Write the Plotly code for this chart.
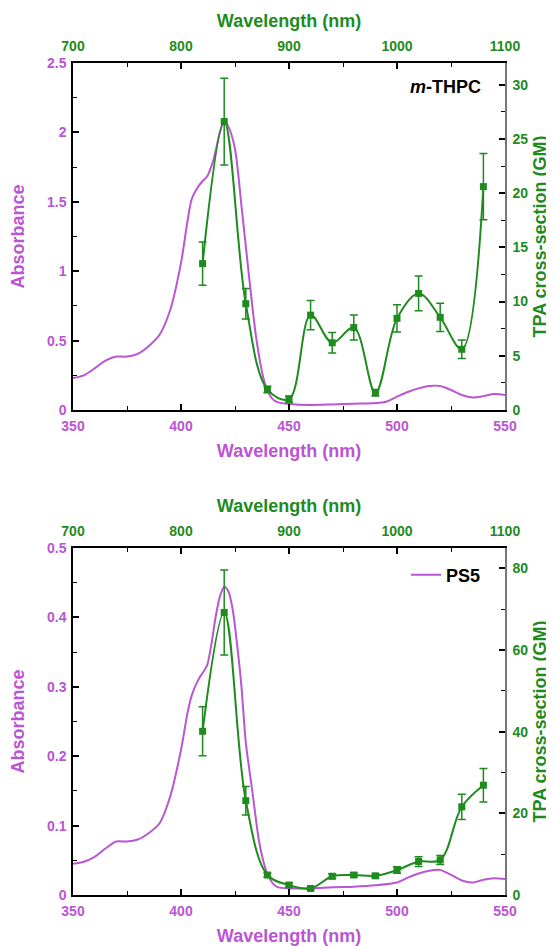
import plotly.graph_objects as go

# ---------------- data ----------------
abs_wl_top = [350, 355, 360, 365, 370, 375, 380, 385, 390, 395, 400, 403, 405, 408, 410, 412,
              415, 418, 420, 422, 425, 428, 430, 433, 435, 438, 440, 443, 445, 450, 460, 470,
              480, 490, 495, 500, 505, 510, 515, 520, 525, 530, 535, 540, 545, 550]
abs_top = [0.23, 0.25, 0.30, 0.355, 0.385, 0.385, 0.405, 0.46, 0.54, 0.72, 1.06, 1.36, 1.52, 1.61, 1.65, 1.68,
           1.80, 2.00, 2.08, 2.04, 1.88, 1.47, 1.18, 0.75, 0.50, 0.24, 0.14, 0.07, 0.055, 0.043, 0.036, 0.04,
           0.045, 0.05, 0.06, 0.096, 0.13, 0.156, 0.173, 0.173, 0.144, 0.108, 0.09, 0.10, 0.115, 0.108]

abs_wl_bot = [350, 355, 360, 365, 370, 375, 380, 385, 390, 395, 400, 403, 405, 408, 410, 412,
              414, 416, 418, 420, 422, 424, 426, 428, 430, 433, 436, 438, 440, 443, 445, 450,
              460, 470, 480, 490, 500, 505, 510, 515, 520, 525, 530, 535, 540, 545, 550]
abs_bot = [0.045, 0.048, 0.055, 0.067, 0.077, 0.077, 0.080, 0.089, 0.103, 0.142, 0.209, 0.262, 0.288, 0.31, 0.32, 0.33,
           0.36, 0.40, 0.43, 0.444, 0.437, 0.41, 0.36, 0.30, 0.22, 0.15, 0.08, 0.05, 0.03, 0.015, 0.011, 0.0095,
           0.0095, 0.011, 0.012, 0.014, 0.018, 0.025, 0.031, 0.035, 0.036, 0.029, 0.021, 0.018, 0.022, 0.024, 0.023]

tpa_wl = [820, 840, 860, 880, 900, 920, 940, 960, 980, 1000, 1020, 1040, 1060, 1080]
tpa_top = [13.5, 26.6, 9.8, 1.9, 1.0, 8.75, 6.2, 7.6, 1.6, 8.45, 10.75, 8.55, 5.6, 20.6]
err_top = [2.0, 4.0, 1.4, 0.3, 0.3, 1.35, 0.95, 1.15, 0.3, 1.25, 1.6, 1.3, 0.85, 3.05]
tpa_bot = [40.1, 69.2, 23.1, 4.9, 2.45, 1.6, 4.6, 4.9, 4.7, 6.1, 8.2, 8.6, 21.6, 26.9]
err_bot = [6.0, 10.4, 3.5, 0.5, 0.5, 0.3, 0.6, 0.5, 0.5, 0.8, 1.2, 1.1, 3.1, 4.1]

# ---------------- style ----------------
MAG = '#BA55D3'
GRN = '#1E8B1E'
FONT = 'Liberation Sans, Arial, sans-serif'

fig = go.Figure()

fig.add_trace(go.Scatter(x=abs_wl_top, y=abs_top, mode='lines', xaxis='x', yaxis='y',
                         line=dict(color=MAG, width=2, shape='spline', smoothing=0.8),
                         showlegend=False))
fig.add_trace(go.Scatter(x=tpa_wl, y=tpa_top, mode='lines+markers', xaxis='x2', yaxis='y2',
                         line=dict(color=GRN, width=2, shape='spline', smoothing=1.0),
                         marker=dict(symbol='square', size=7, color=GRN),
                         error_y=dict(type='data', array=err_top, color=GRN, thickness=1.5, width=4),
                         showlegend=False))
fig.add_trace(go.Scatter(x=abs_wl_bot, y=abs_bot, mode='lines', xaxis='x3', yaxis='y3',
                         line=dict(color=MAG, width=2, shape='spline', smoothing=0.8),
                         name='PS5', showlegend=True))
fig.add_trace(go.Scatter(x=tpa_wl, y=tpa_bot, mode='lines+markers', xaxis='x4', yaxis='y4',
                         line=dict(color=GRN, width=2, shape='spline', smoothing=1.0),
                         marker=dict(symbol='square', size=7, color=GRN),
                         error_y=dict(type='data', array=err_bot, color=GRN, thickness=1.5, width=4),
                         showlegend=False))

dom_top = [485 / 832, 1.0]
dom_bot = [0.0, 347 / 832]

tickfont_m = dict(family=FONT, size=14, color=MAG, weight='bold')
tickfont_g = dict(family=FONT, size=14, color=GRN, weight='bold')
titlefont_m = dict(family=FONT, size=18, color=MAG, weight='bold')
titlefont_g = dict(family=FONT, size=18, color=GRN, weight='bold')

def xbottom(anchor):
    return dict(range=[350, 550], tickvals=[350, 400, 450, 500, 550], ticks='inside', ticklen=6,
                tickwidth=1.5, tickcolor='black', showline=True, linecolor='black', linewidth=1.5,
                showgrid=False, zeroline=False, tickfont=tickfont_m, anchor=anchor, automargin=False,
                ticklabelstandoff=2,
                minor=dict(ticks='inside', ticklen=4, tickwidth=1, tickcolor='black', dtick=25, showgrid=False),
                title=dict(text='Wavelength (nm)', font=titlefont_m, standoff=12))

def xtop(overlay, anchor):
    return dict(range=[700, 1100], tickvals=[700, 800, 900, 1000, 1100], ticks='inside', ticklen=6,
                tickwidth=1.5, tickcolor='black', showline=True, linecolor='black', linewidth=1.5,
                showgrid=False, zeroline=False, tickfont=tickfont_g, side='top', overlaying=overlay,
                anchor=anchor, automargin=False, ticklabelstandoff=5,
                minor=dict(ticks='inside', ticklen=4, tickwidth=1, tickcolor='black', dtick=50, showgrid=False),
                title=dict(text='Wavelength (nm)', font=titlefont_g, standoff=5))

def yleft(dom, rng, tv, minor_dt, anchor):
    return dict(domain=dom, range=rng, tickvals=tv, ticks='inside', ticklen=6, tickwidth=1.5,
                tickcolor='black', showline=True, linecolor='black', linewidth=1.5, showgrid=False,
                zeroline=False, tickfont=tickfont_m, anchor=anchor, automargin=False, ticklabelstandoff=2,
                minor=dict(ticks='inside', ticklen=4, tickwidth=1, tickcolor='black', dtick=minor_dt, showgrid=False),
                title=dict(text='Absorbance', font=titlefont_m, standoff=18))

def yright(dom, rng, tv, minor_dt, overlay, anchor):
    return dict(domain=dom, range=rng, tickvals=tv, ticks='inside', ticklen=6, tickwidth=1.5,
                tickcolor='black', showline=True, linecolor='#777777', linewidth=1.5, showgrid=False,
                zeroline=False, tickfont=tickfont_g, side='right', overlaying=overlay, anchor=anchor,
                automargin=False, ticklabelstandoff=3,
                minor=dict(ticks='inside', ticklen=4, tickwidth=1, tickcolor='black', dtick=minor_dt, showgrid=False),
                title=dict(text='TPA cross-section (GM)', font=titlefont_g, standoff=6))

# page body has an 8px default margin, so the figure is drawn 8px smaller
fig.update_layout(
    width=546, height=938,
    margin=dict(l=65, r=49, t=55, b=51, autoexpand=False),
    paper_bgcolor='white', plot_bgcolor='white',
    font=dict(family=FONT),
    xaxis=xbottom('y'),
    xaxis2=xtop('x', 'y2'),
    yaxis=yleft(dom_top, [0, 2.5], [0, 0.5, 1, 1.5, 2, 2.5], 0.25, 'x'),
    yaxis2=yright(dom_top, [0, 32], [0, 5, 10, 15, 20, 25, 30], 2.5, 'y', 'x2'),
    xaxis3=xbottom('y3'),
    xaxis4=xtop('x3', 'y4'),
    yaxis3=yleft(dom_bot, [0, 0.5], [0, 0.1, 0.2, 0.3, 0.4, 0.5], 0.05, 'x3'),
    yaxis4=yright(dom_bot, [0, 85], [0, 20, 40, 60, 80], 10, 'y3', 'x4'),
    legend=dict(x=0.771, y=(895 - 575) / 832, xanchor='left', yanchor='middle',
                bgcolor='rgba(0,0,0,0)', font=dict(family=FONT, size=18, color='black', weight='bold')),
    annotations=[dict(text='<i>m</i>-THPC', xref='paper', yref='paper',
                      x=(445 - 73) / 432, y=(895 - 87) / 832, xanchor='center', yanchor='middle',
                      showarrow=False,
                      font=dict(family=FONT, size=18, color='black', weight='bold'))],
)

fig.write_html('out.html')
